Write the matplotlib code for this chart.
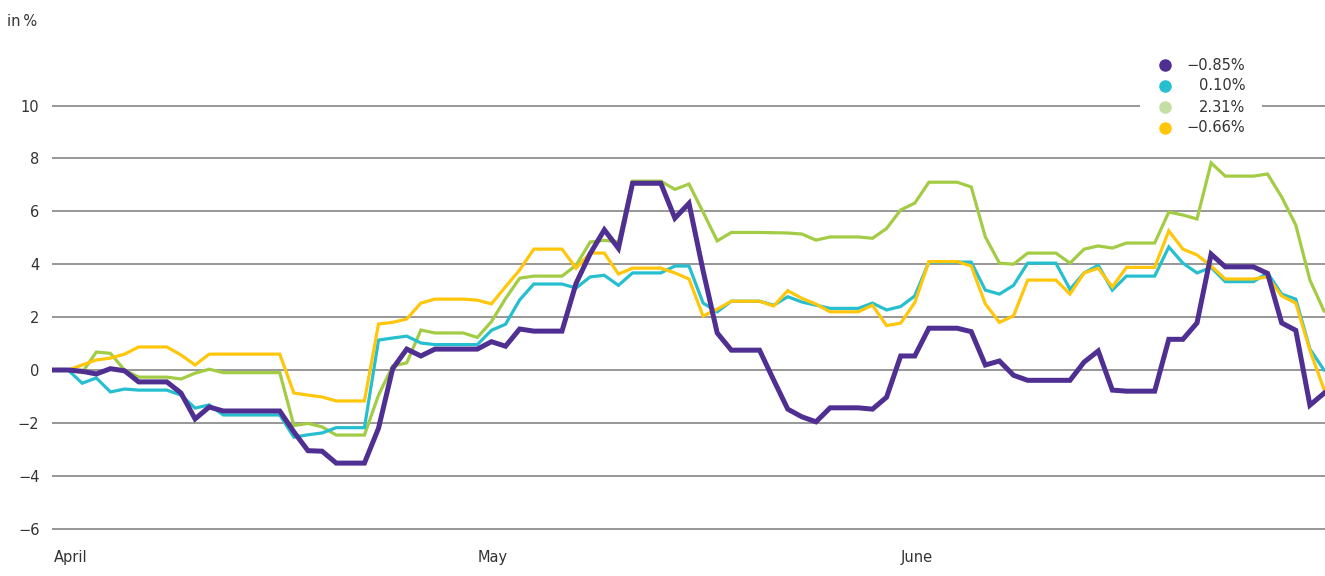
import matplotlib
matplotlib.use("Agg")
import matplotlib.pyplot as plt
from matplotlib.patches import Rectangle

# daily values, 1 April to 30 June, in %
purple = [0, 0, -0.05, -0.15, 0.05, -0.03, -0.45, -0.45, -0.45, -0.87,
          -1.85, -1.4, -1.55, -1.55, -1.55, -1.55, -1.55, -2.34, -3.05, -3.07,
          -3.52, -3.52, -3.52, -2.2, 0.05, 0.79, 0.53, 0.79, 0.79, 0.79,
          0.79, 1.07, 0.9, 1.55, 1.47, 1.47, 1.47, 3.28, 4.4, 5.3,
          4.6, 7.06, 7.06, 7.06, 5.74, 6.3, 3.75, 1.4, 0.75, 0.75,
          0.75, -0.38, -1.48, -1.77, -1.96, -1.43, -1.43, -1.43, -1.48, -1.03,
          0.53, 0.53, 1.58, 1.58, 1.58, 1.45, 0.19, 0.34, -0.2, -0.39,
          -0.39, -0.39, -0.39, 0.3, 0.72, -0.76, -0.8, -0.8, -0.8, 1.16,
          1.16, 1.78, 4.38, 3.9, 3.9, 3.9, 3.65, 1.78, 1.5, -1.33,
          -0.88]
cyan = [0, 0, -0.5, -0.3, -0.83, -0.72, -0.76, -0.76, -0.76, -0.95,
        -1.44, -1.32, -1.7, -1.7, -1.7, -1.7, -1.7, -2.54, -2.45, -2.38,
        -2.18, -2.18, -2.18, 1.13, 1.21, 1.28, 1.02, 0.96, 0.96, 0.96,
        0.96, 1.5, 1.73, 2.65, 3.25, 3.25, 3.25, 3.1, 3.52, 3.58,
        3.2, 3.67, 3.67, 3.67, 3.93, 3.93, 2.53, 2.2, 2.6, 2.6,
        2.6, 2.45, 2.77, 2.57, 2.45, 2.33, 2.33, 2.33, 2.53, 2.27,
        2.4, 2.8, 4.08, 4.08, 4.08, 4.08, 3.02, 2.87, 3.2, 4.04,
        4.04, 4.04, 3.05, 3.67, 3.96, 3.02, 3.55, 3.55, 3.55, 4.65,
        4.04, 3.67, 3.88, 3.34, 3.34, 3.34, 3.67, 2.87, 2.68, 0.79,
        0.0]
green = [0, 0, -0.1, 0.68, 0.63, 0.0, -0.27, -0.27, -0.27, -0.34,
         -0.12, 0.03, -0.1, -0.1, -0.1, -0.1, -0.1, -2.1, -2.02, -2.15,
         -2.46, -2.46, -2.46, -0.95, 0.15, 0.27, 1.51, 1.4, 1.4, 1.4,
         1.23, 1.83, 2.7, 3.47, 3.55, 3.55, 3.55, 3.96, 4.84, 4.9,
         4.85, 7.14, 7.14, 7.14, 6.83, 7.03, 5.97, 4.88, 5.2, 5.2,
         5.2, 5.19, 5.18, 5.14, 4.91, 5.03, 5.03, 5.03, 4.98, 5.35,
         6.05, 6.31, 7.1, 7.1, 7.1, 6.92, 5.03, 4.04, 4.0, 4.42,
         4.42, 4.42, 4.04, 4.57, 4.69, 4.61, 4.8, 4.8, 4.8, 5.97,
         5.86, 5.71, 7.83, 7.33, 7.33, 7.33, 7.41, 6.54, 5.48, 3.4,
         2.23]
yellow = [0, 0, 0.19, 0.38, 0.45, 0.6, 0.87, 0.87, 0.87, 0.57,
          0.19, 0.6, 0.6, 0.6, 0.6, 0.6, 0.6, -0.87, -0.95, -1.02,
          -1.17, -1.17, -1.17, 1.74, 1.8, 1.93, 2.53, 2.68, 2.68, 2.68,
          2.64, 2.5, 3.15, 3.78, 4.57, 4.57, 4.57, 3.85, 4.42, 4.42,
          3.63, 3.85, 3.85, 3.85, 3.67, 3.44, 2.04, 2.3, 2.6, 2.6,
          2.6, 2.42, 3.0, 2.71, 2.49, 2.2, 2.2, 2.2, 2.45, 1.68,
          1.77, 2.55, 4.1, 4.1, 4.1, 3.93, 2.5, 1.8, 2.05, 3.4,
          3.4, 3.4, 2.87, 3.67, 3.85, 3.14, 3.88, 3.88, 3.88, 5.26,
          4.57, 4.35, 3.93, 3.44, 3.44, 3.44, 3.52, 2.8, 2.53, 0.75,
          -0.73]

legend_labels = ["\u22120.85%", "0.10%", "2.31%", "\u22120.66%"]
month_ticks = [0, 30, 60]
month_labels = ["April", "May", "June"]
y_ticks = [-6, -4, -2, 0, 2, 4, 6, 8, 10]

W, H = 1325, 576
fig = plt.figure(figsize=(W / 100, H / 100), dpi=100)
plt.rcParams['font.family'] = ['DejaVu Sans']

# axes placed so that gridlines land where they are in the reference
ylo, yhi = -6.6, 12.4
bottom_px = 370 + 26.45 * (-ylo)
top_px = 370 - 26.45 * yhi
ax = fig.add_axes([52 / W, 1 - bottom_px / H, (W - 52) / W, (bottom_px - top_px) / H])
ax.set_ylim(ylo, yhi)
ax.set_xlim(-0.14, 90.07)

days = list(range(len(purple)))
ax.plot(days, green, color="#a3cc45", lw=2.3, zorder=3, solid_joinstyle="miter")
ax.plot(days, cyan, color="#25bfcf", lw=2.3, zorder=4, solid_joinstyle="miter")
ax.plot(days, yellow, color="#ffc60b", lw=2.3, zorder=5, solid_joinstyle="miter")
ax.plot(days, purple, color="#4f2f92", lw=3.6, zorder=6, solid_joinstyle="miter")

for s in ax.spines.values():
    s.set_visible(False)
ax.set_yticks(y_ticks)
ax.set_yticklabels([str(v).replace("-", "\u2212") for v in y_ticks])
ax.yaxis.grid(True, color="#7a7a7a", lw=1.1)
ax.set_axisbelow(True)
ax.tick_params(axis="y", length=0, pad=9, labelsize=10.5, labelcolor="#333333")
ax.set_xticks(month_ticks)
ax.set_xticklabels(month_labels, ha="left")
ax.tick_params(axis="x", length=0, pad=4, labelsize=10.5, labelcolor="#333333")

fig.text(7 / W, 1 - 22 / H, "in\u2009%", fontsize=10.5, color="#333333", va="center", ha="left")

# legend drawn by hand so the numbers can be right-aligned
ax.add_patch(Rectangle((1140 / W, 1 - 142 / H), 122 / W, 90 / H, transform=fig.transFigure,
                       facecolor="white", edgecolor="none", zorder=2, clip_on=False))
leg_colors = ["#4f2f92", "#25bfcf", "#c4dfa4", "#ffc60b"]
leg_y = [65, 86, 107, 128]
for lab, col, yy in zip(legend_labels, leg_colors, leg_y):
    ax.plot([1165 / W], [1 - yy / H], "o", color=col, ms=8, transform=fig.transFigure,
            clip_on=False, zorder=7)
    fig.text(1245 / W, 1 - yy / H, lab, fontsize=10.5, color="#333333", ha="right", va="center")

fig.savefig("out.png", dpi=100)
